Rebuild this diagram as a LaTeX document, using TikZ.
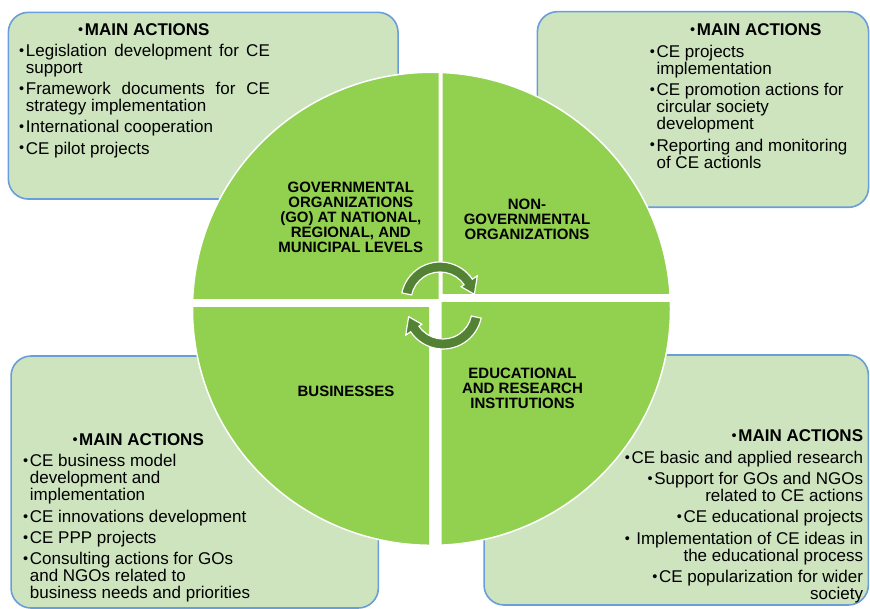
\documentclass[tikz,border=0pt]{standalone}
\usepackage{fontspec}
\setmainfont{Liberation Sans}
\definecolor{boxfill}{RGB}{205,228,191}
\definecolor{boxline}{RGB}{106,158,214}
\definecolor{cgreen}{RGB}{146,208,80}
\definecolor{agreen}{RGB}{84,130,53}
\newcommand\bl{\makebox[6.7pt][l]{\raisebox{1.1pt}{\fontsize{14.5}{14.5}\selectfont•}}}
\newcommand\ind{\hspace*{6.7pt}}
\newcommand\fst{\rule{0pt}{13pt}}
\begin{document}
\begin{tikzpicture}[x=1pt,y=1pt,
  abox/.style={draw=boxline, line width=1.6pt, fill=boxfill, rounded corners=20pt, inner sep=0pt},
  btxt/.style={inner sep=0pt, align=left, font=\fontsize{17}{17}\selectfont},
  rtxt/.style={inner sep=0pt, align=right, font=\fontsize{17}{17}\selectfont},
  clab/.style={inner sep=0pt, align=center, font=\fontsize{15}{15}\selectfont\bfseries},
  quad/.style={fill=cgreen},
  cyc/.style={fill=agreen, draw=white, line width=1.2pt}]
\useasboundingbox (0,0) rectangle (870,-609);
% boxes
\node[abox, minimum width=389.7pt, minimum height=186.7pt] (tlbox) at (203.2,-105.7) {};
\node[abox, minimum width=331.2pt, minimum height=195.6pt] (trbox) at (703,-109.5) {};
\node[abox, minimum width=367.3pt, minimum height=252pt] (blbox) at (194.7,-482) {};
\node[abox, minimum width=384.3pt, minimum height=250pt] (brbox) at (676.2,-480) {};
% quadrants
\coordinate (cc) at (431.5,-308.8);
\begin{scope}
  \clip (100,-299) rectangle (438.7,-40);
  \fill[quad] (cc) ellipse[x radius=239, y radius=236.5];
\end{scope}
\begin{scope}
  \clip (442.7,-294) rectangle (720,-40);
  \fill[quad] (cc) ellipse[x radius=239, y radius=236.5];
\end{scope}
\begin{scope}
  \clip (100,-307.7) rectangle (429,-580);
  \fill[quad] (cc) ellipse[x radius=239, y radius=236.5];
\end{scope}
\begin{scope}
  \clip (441.7,-302.3) rectangle (720,-580);
  \fill[quad] (cc) ellipse[x radius=239, y radius=236.5];
\end{scope}
\draw[white, line width=1.5pt] (cc) ellipse[x radius=239, y radius=236.5];
% cycle arrows
\filldraw[cyc, shift={(440,-301)}] (168:39) arc[start angle=168, end angle=34, radius=39] -- (34:45) -- (11:35) -- (34:25.5) -- (34:29) arc[start angle=34, end angle=168, radius=29] -- cycle;
\filldraw[cyc, shift={(443,-310)}, rotate=180] (168:39) arc[start angle=168, end angle=34, radius=39] -- (34:45) -- (11:35) -- (34:25.5) -- (34:29) arc[start angle=34, end angle=168, radius=29] -- cycle;
% circle labels
\node[clab, anchor=north] (go) at (350.8,-181.7) {\rule{0pt}{11pt}GOVERNMENTAL\\ORGANIZATIONS\\(GO) AT NATIONAL,\\REGIONAL, AND\\MUNICIPAL LEVELS};
\node[clab, anchor=north] (ngo) at (527,-198.3) {\rule{0pt}{11pt}NON-\\GOVERNMENTAL\\ORGANIZATIONS};
\node[clab, anchor=north] (bus) at (346,-385) {\rule{0pt}{11pt}BUSINESSES};
\node[clab, anchor=north] (edu) at (522.5,-367.7) {\rule{0pt}{11pt}EDUCATIONAL\\AND RESEARCH\\INSTITUTIONS};
% top left text
\node[btxt, anchor=north west] (tlhead) at (78,-22) {\fst\bl\textbf{MAIN ACTIONS}};
\node[btxt, anchor=north west] (tllist) at (19,-43) {\fst\bl\makebox[244pt][s]{Legislation development for CE}\\
\ind support\\[4.3pt]
\bl\makebox[244pt][s]{Framework documents for CE}\\
\ind strategy implementation\\[4.3pt]
\bl International cooperation\\[4.3pt]
\bl CE pilot projects};
% top right text
\node[btxt, anchor=north west] (trhead) at (690,-22) {\fst\bl\textbf{MAIN ACTIONS}};
\node[btxt, anchor=north west] (trlist) at (649.7,-44.3) {\fst\bl CE projects\\
\ind implementation\\[4.3pt]
\bl CE promotion actions for\\
\ind circular society\\
\ind development\\[4.3pt]
\bl Reporting and monitoring\\
\ind of CE actionls};
% bottom left text
\node[btxt, anchor=north west] (blhead) at (72.3,-432.7) {\fst\bl\textbf{MAIN ACTIONS}};
\node[btxt, anchor=north west] (bllist) at (23,-453.7) {\fst\bl CE business model\\
\ind development and\\
\ind implementation\\[4.3pt]
\bl CE innovations development\\[4.3pt]
\bl CE PPP projects\\[4.3pt]
\bl Consulting actions for GOs\\
\ind and NGOs related to\\
\ind business needs and priorities};
% bottom right text
\node[rtxt, anchor=north east] (brlist) at (863.3,-428.7) {\fst\bl\textbf{MAIN ACTIONS}\\[4.3pt]
\bl CE basic and applied research\\[4.3pt]
\bl Support for GOs and NGOs\\
related to CE actions\\[4.3pt]
\bl CE educational projects\\[4.3pt]
\bl\ Implementation of CE ideas in\\
the educational process\\[4.3pt]
\bl CE popularization for wider\\
society};
\end{tikzpicture}
\end{document}
